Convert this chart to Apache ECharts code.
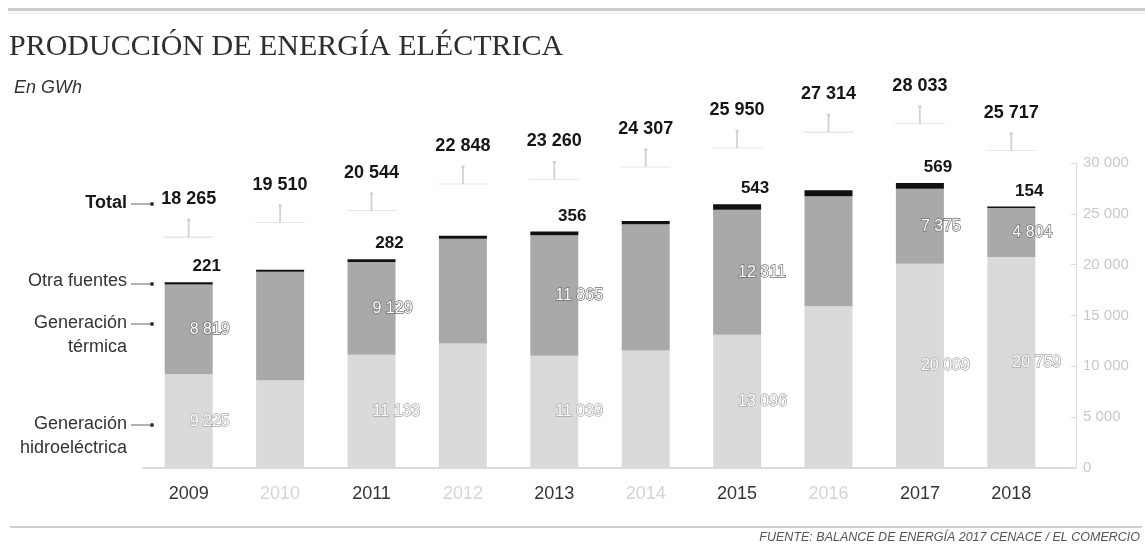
<!DOCTYPE html>
<html>
<head>
<meta charset="utf-8">
<script src="https://cdn.jsdelivr.net/npm/echarts@6/dist/echarts.min.js"></script>
<style>
html,body{margin:0;padding:0;background:#fff;}
#c{width:1145px;height:548px;}
</style>
</head>
<body>
<div id="c"></div>
<script>
// ---- data ----
const years = ['2009','2010','2011','2012','2013','2014','2015','2016','2017','2018'];
const hydro = [9225, 8630, 11133, 12250, 11039, 11560, 13096, 15920, 20089, 20759];
const thermal = [8819, 10670, 9129, 10298, 11865, 12417, 12311, 10804, 7375, 4804];
const other = [221, 210, 282, 300, 356, 330, 543, 590, 569, 154];
const totals = [18265, 19510, 20544, 22848, 23260, 24307, 25950, 27314, 28033, 25717];
const labeledYears = ['2009','2011','2013','2015','2017','2018'];
const yMin = 0, yMax = 30000, yStep = 5000;

const fmt = v => String(v).replace(/\B(?=(\d{3})+(?!\d))/g, ' ');
const SANS = '"Liberation Sans", Arial, sans-serif';
const isLab = i => labeledYears.indexOf(years[i]) >= 0;

const chart = echarts.init(document.getElementById('c'), null, {renderer: 'canvas'});

const gridMain = {left: 143, right: 88, top: 163, bottom: 80};
const gridTot = {left: 143, right: 88, top: 63, bottom: 137};

const segLabel = (border) => ({
  show: true,
  position: 'inside',
  align: 'left',
  offset: [1, 0],
  color: '#ffffff',
  textBorderColor: border,
  textBorderWidth: 1.4,
  fontFamily: SANS,
  fontSize: 16,
  formatter: p => isLab(p.dataIndex) ? fmt(p.value) : ''
});

const option = {
  animation: false,
  backgroundColor: '#ffffff',
  grid: [gridMain, gridTot],
  xAxis: [
    {
      type: 'category', data: years, gridIndex: 0,
      axisLine: {show: true, lineStyle: {color: '#d0d0d0', width: 1.5}},
      axisTick: {show: false},
      axisLabel: {
        margin: 17, fontFamily: SANS, fontSize: 18,
        formatter: v => labeledYears.indexOf(v) >= 0 ? '{d|' + v + '}' : '{l|' + v + '}',
        rich: {d: {color: '#333', fontFamily: SANS, fontSize: 18}, l: {color: '#d4d4d4', fontFamily: SANS, fontSize: 18}}
      }
    },
    {type: 'category', data: years, gridIndex: 1, show: false}
  ],
  yAxis: [
    {
      type: 'value', gridIndex: 0, position: 'right', offset: 19,
      min: yMin, max: yMax, interval: yStep,
      axisLine: {show: true, lineStyle: {color: '#dcdcdc', width: 1}},
      axisTick: {show: true, inside: true, length: 5, lineStyle: {color: '#dcdcdc'}},
      splitLine: {show: false},
      axisLabel: {margin: 7, color: '#c8c8c8', fontFamily: SANS, fontSize: 15, formatter: v => fmt(v)}
    },
    {type: 'value', gridIndex: 1, min: yMin, max: yMax, show: false}
  ],
  series: [
    {
      name: 'Generación hidroeléctrica', type: 'bar', stack: 'total', data: hydro,
      barWidth: 48, itemStyle: {color: '#dadada'},
      label: segLabel('#a6a6a6')
    },
    {
      name: 'Generación térmica', type: 'bar', stack: 'total', data: thermal,
      barWidth: 48, itemStyle: {color: '#a9a9a9'},
      label: segLabel('#6e6e6e')
    },
    {
      name: 'Otra fuentes', type: 'bar', stack: 'total', data: other,
      barWidth: 48, itemStyle: {color: '#111111'},
      label: {
        show: true, position: 'top', distance: 7, offset: [18, 0],
        color: '#151515', fontFamily: SANS, fontWeight: 'bold', fontSize: 17,
        formatter: p => isLab(p.dataIndex) ? fmt(p.value) : ''
      }
    },
    {
      name: 'Total', type: 'scatter', xAxisIndex: 1, yAxisIndex: 1, data: totals,
      symbol: 'circle', symbolSize: 1, itemStyle: {color: 'rgba(0,0,0,0)', opacity: 1},
      label: {
        show: true, position: 'inside', color: '#151515', fontFamily: SANS,
        fontWeight: 'bold', fontSize: 18, formatter: p => fmt(p.value)
      },
      z: 5
    },
    {
      name: 'connector', type: 'scatter', xAxisIndex: 1, yAxisIndex: 1, data: totals,
      symbol: 'path://M24,0 L26,0 L25,3 Z M25,0 L25,18 M0,18 L50,18',
      symbolSize: [50, 18], symbolOffset: [0, 29],
      itemStyle: {color: '#c8c8c8', borderColor: '#cfcfcf', borderWidth: 1, opacity: 1},
      silent: true
    }
  ],
  graphic: [
    {type: 'rect', shape: {x: 8, y: 8, width: 1137, height: 3}, style: {fill: '#cdcdcd'}},
    {type: 'line', shape: {x1: 8, y1: 13, x2: 1145, y2: 13}, style: {stroke: '#e4e4e4', lineWidth: 1}},
    {type: 'text', x: 9, y: 47, style: {text: 'PRODUCCIÓN DE ENERGÍA ELÉCTRICA', fill: '#2e2e2e', font: '30px "Liberation Serif", "DejaVu Serif", serif', verticalAlign: 'middle'}},
    {type: 'text', x: 14, y: 88, style: {text: 'En GWh', fill: '#333', font: 'italic 18px ' + SANS, verticalAlign: 'middle'}},

    {type: 'text', x: 127, y: 203, style: {text: 'Total', fill: '#1a1a1a', font: 'bold 18px ' + SANS, align: 'right', verticalAlign: 'middle'}},
    {type: 'line', shape: {x1: 131, y1: 204, x2: 150, y2: 204}, style: {stroke: '#666', lineWidth: 1}},
    {type: 'circle', shape: {cx: 152, cy: 204, r: 2}, style: {fill: '#333'}},

    {type: 'text', x: 127, y: 281, style: {text: 'Otra fuentes', fill: '#333', font: '18px ' + SANS, align: 'right', verticalAlign: 'middle'}},
    {type: 'line', shape: {x1: 131, y1: 284, x2: 150, y2: 284}, style: {stroke: '#666', lineWidth: 1}},
    {type: 'circle', shape: {cx: 152, cy: 284, r: 2}, style: {fill: '#333'}},

    {type: 'text', x: 127, y: 323, style: {text: 'Generación', fill: '#333', font: '18px ' + SANS, align: 'right', verticalAlign: 'middle'}},
    {type: 'text', x: 127, y: 347, style: {text: 'térmica', fill: '#333', font: '18px ' + SANS, align: 'right', verticalAlign: 'middle'}},
    {type: 'line', shape: {x1: 131, y1: 324, x2: 150, y2: 324}, style: {stroke: '#666', lineWidth: 1}},
    {type: 'circle', shape: {cx: 152, cy: 324, r: 2}, style: {fill: '#333'}},

    {type: 'text', x: 127, y: 424, style: {text: 'Generación', fill: '#333', font: '18px ' + SANS, align: 'right', verticalAlign: 'middle'}},
    {type: 'text', x: 127, y: 448, style: {text: 'hidroeléctrica', fill: '#333', font: '18px ' + SANS, align: 'right', verticalAlign: 'middle'}},
    {type: 'line', shape: {x1: 131, y1: 425, x2: 150, y2: 425}, style: {stroke: '#666', lineWidth: 1}},
    {type: 'circle', shape: {cx: 152, cy: 425, r: 2}, style: {fill: '#333'}},

    {type: 'line', shape: {x1: 10, y1: 527, x2: 1142, y2: 527}, style: {stroke: '#bdbdbd', lineWidth: 1.5}},
    {type: 'text', x: 1140, y: 538, style: {text: 'FUENTE: BALANCE DE ENERGÍA 2017 CENACE / EL COMERCIO', fill: '#555', font: 'italic 12.5px "Liberation Sans Narrow", "Liberation Sans", sans-serif', align: 'right', verticalAlign: 'middle'}}
  ]
};
chart.setOption(option);

// extend the baseline to the offset value axis, using the library's scales
const y0 = chart.convertToPixel({yAxisIndex: 0}, 0);
const axisX = 1145 - gridMain.right + 19;
chart.setOption({graphic: option.graphic.concat([
  {type: 'line', shape: {x1: 1145 - gridMain.right, y1: y0, x2: axisX, y2: y0}, style: {stroke: '#d0d0d0', lineWidth: 1.5}}
])});
</script>
</body>
</html>
